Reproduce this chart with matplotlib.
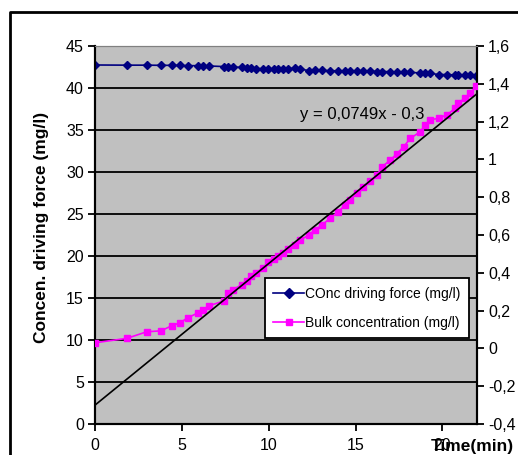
'''
Driving force and bulk concentration vs time, with linear trendline
'''
import matplotlib
matplotlib.use('Agg')
import matplotlib.pyplot as plt
from matplotlib.lines import Line2D

plt.rcParams['font.family'] = ['Liberation Sans', 'DejaVu Sans']

# time (min)
time = [0, 1.83, 2.98, 3.8, 4.42, 4.9, 5.34, 5.95, 6.2, 6.58,
        7.45, 7.64, 7.93, 8.45, 8.74, 8.97, 9.28,
        9.7, 9.99, 10.28, 10.56, 10.85, 11.14,
        11.5, 11.82, 12.3, 12.68, 13.07, 13.54, 14.02, 14.41, 14.7, 15.08,
        15.46, 15.85, 16.24, 16.52, 17.0, 17.39, 17.77, 18.16, 18.73, 19.02,
        19.31, 19.79, 20.27, 20.75, 20.88, 21.33, 21.61, 21.95]

# concentration driving force (mg/l), left axis
driving = [42.74, 42.72, 42.72, 42.7, 42.7, 42.68, 42.66, 42.66, 42.64, 42.62,
           42.55, 42.5, 42.5, 42.45, 42.4, 42.4, 42.3,
           42.3, 42.3, 42.25, 42.25, 42.25, 42.3,
           42.35, 42.3, 42.05, 42.1, 42.1, 42.05, 42.05, 42.0, 42.05, 42.0,
           42.0, 42.0, 41.95, 41.95, 41.95, 41.9, 41.9, 41.85, 41.8, 41.8,
           41.75, 41.6, 41.6, 41.55, 41.5, 41.5, 41.5, 41.45]

# bulk concentration (mg/l), right axis
bulk = [0.030, 0.053, 0.088, 0.093, 0.120, 0.136, 0.162, 0.189, 0.203, 0.226,
        0.252, 0.292, 0.311, 0.336, 0.358, 0.383, 0.400,
        0.427, 0.458, 0.471, 0.489, 0.507, 0.524,
        0.547, 0.573, 0.600, 0.627, 0.653, 0.689, 0.724, 0.760, 0.787, 0.822,
        0.853, 0.884, 0.916, 0.960, 0.996, 1.031, 1.067, 1.111, 1.147, 1.182,
        1.209, 1.218, 1.236, 1.271, 1.298, 1.324, 1.351, 1.387]

# trendline y = a*x + b
slope = 0.0749
intercept = -0.3
trend_x = [0, 22]

left_ticks = [0, 5, 10, 15, 20, 25, 30, 35, 40, 45]
right_ticks = [-0.4, -0.2, 0, 0.2, 0.4, 0.6, 0.8, 1.0, 1.2, 1.4, 1.6]
right_labels = ['-0,4', '-0,2', '0', '0,2', '0,4', '0,6', '0,8', '1', '1,2', '1,4', '1,6']
x_ticks = [0, 5, 10, 15, 20]

fig = plt.figure(figsize=(5.18, 4.55), dpi=100)
ax = fig.add_axes([0.1834, 0.0681, 0.7376, 0.8308])
ax.set_facecolor('#C0C0C0')
ax2 = ax.twinx()

# gridlines on left axis values
for v in left_ticks[1:]:
    ax.axhline(v, color='k', lw=1.3, zorder=1)

ax.plot(time, driving, '-D', color='#000080', ms=4.5, lw=1.2, zorder=3)
ax2.plot(time, bulk, '-s', color='#FF00FF', ms=5, lw=1.2, zorder=3)
ax2.plot(trend_x, [slope * x + intercept for x in trend_x], color='k', lw=1.2, zorder=4)

ax.set_xlim(0, 22)
ax.set_ylim(0, 45)
ax2.set_ylim(-0.4, 1.6)
ax.set_xticks(x_ticks)
ax.set_yticks(left_ticks)
ax2.set_yticks(right_ticks)
ax2.set_yticklabels(right_labels)

for a in (ax, ax2):
    a.tick_params(labelsize=11.5, direction='out', length=5, width=1.3, colors='k', pad=3)
    a.spines['top'].set_color('#808080')
    for s in ('left', 'right', 'bottom'):
        a.spines[s].set_linewidth(1.5)
ax.tick_params(axis='x', pad=5)

ax2.text(11.8, 1.235, 'y = 0,0749x - 0,3', fontsize=12, ha='left', va='center', zorder=5)

handles = [Line2D([], [], color='#000080', marker='D', ms=5, lw=1.2),
           Line2D([], [], color='#FF00FF', marker='s', ms=4.5, lw=1.2)]
leg = ax2.legend(handles, ['COnc driving force (mg/l)', 'Bulk concentration (mg/l)'],
                 loc='upper left', bbox_to_anchor=(0.445, 0.385), fontsize=10,
                 fancybox=False, framealpha=1, edgecolor='k', borderaxespad=0,
                 handlelength=2.2, handletextpad=0.1, labelspacing=1.1,
                 borderpad=0.6)
leg.get_frame().set_linewidth(1.3)
leg.set_zorder(10)

fig.text(0.081, 0.5, 'Concen. driving force (mg/l)', rotation=90, fontsize=12.5,
         fontweight='bold', ha='center', va='center')
fig.text(0.992, 0.018, 'Time(min)', fontsize=12.5, fontweight='bold', ha='right', va='center')

# chart area border (left and top edges visible)
fig.add_artist(Line2D([0.02, 0.02, 1.0], [0.0, 0.974, 0.974], color='k', lw=2,
                      transform=fig.transFigure))

fig.savefig('out.png', dpi=100)
